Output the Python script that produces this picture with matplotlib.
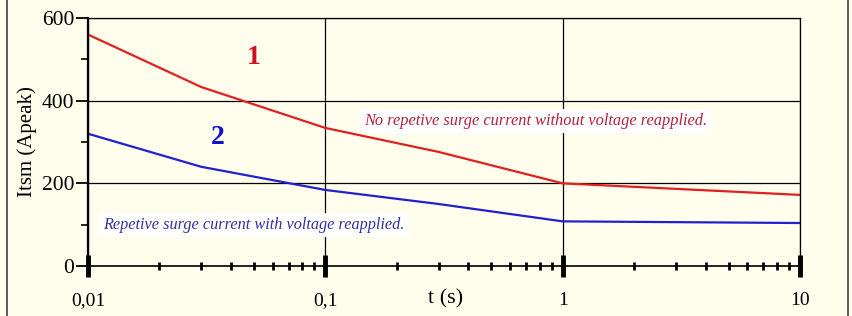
import matplotlib
matplotlib.use("Agg")
import matplotlib.pyplot as plt
from matplotlib.ticker import FixedLocator, LogLocator, NullFormatter
from matplotlib.patches import Rectangle

t_red = [0.01, 0.03, 0.1, 0.3, 1.0, 10.0]
i_red = [560, 433, 334, 276, 200, 172]
t_blue = [0.01, 0.03, 0.1, 0.3, 1.0, 10.0]
i_blue = [320, 240, 184, 150, 108, 104]
xticks = [0.01, 0.1, 1, 10]
xticklabels = ["0,01", "0,1", "1", "10"]
yticks = [0, 200, 400, 600]

bg = "#FFFEEC"
plt.rcParams['font.family'] = ['Liberation Serif', 'DejaVu Serif']

fig = plt.figure(figsize=(8.52, 3.16), dpi=100, facecolor=bg)
ax = fig.add_axes([88/852, 1-266/316, (800-88)/852, (266-18)/316])
ax.set_facecolor(bg)

ax.plot(t_red, i_red, color="#E02020", lw=1.6)
ax.plot(t_blue, i_blue, color="#2020D0", lw=1.6)

ax.set_xscale("log")
ax.set_xlim(0.01, 10)
ax.set_ylim(0, 600)

ax.xaxis.set_major_locator(FixedLocator(xticks))
ax.set_xticklabels(xticklabels)
ax.xaxis.set_minor_locator(LogLocator(base=10, subs=range(2, 10)))
ax.xaxis.set_minor_formatter(NullFormatter())
ax.set_yticks(yticks)
ax.yaxis.set_minor_locator(FixedLocator([100, 300, 500]))

ax.tick_params(axis='x', which='major', direction='inout', length=16, width=3.5, pad=11, labelsize=14, color='black')
ax.tick_params(axis='x', which='minor', direction='inout', length=6, width=2, color='black')
ax.tick_params(axis='y', which='major', direction='out', length=9, width=1.3, pad=1, labelsize=15.5)
ax.tick_params(axis='y', which='minor', direction='out', length=5, width=1.2)

ax.grid(True, which='major', color='black', lw=0.9)
for s in ax.spines.values():
    s.set_linewidth(0.9)
ax.spines['left'].set_linewidth(1.6)
ax.spines['bottom'].set_linewidth(1.2)

ax.set_ylabel("Itsm (Apeak)", fontsize=15, labelpad=3)
ax.set_xlabel("t (s)", fontsize=16)
ax.xaxis.set_label_coords((446-88)/712, -0.095)
ax.xaxis.label.set_va('top')

ax.text(0.05, 505, "1", color="#D01020", fontsize=20, fontweight='bold', ha='center', va='center')
ax.text(0.0353, 310, "2", color="#1010D0", fontsize=20, fontweight='bold', ha='center', va='center')

ax.text(0.145, 350, "No repetive surge current without voltage reapplied.", color="#B02040",
        fontsize=11.8, style='italic', ha='left', va='center',
        bbox=dict(boxstyle='square,pad=0.25', fc='white', ec='none'))
ax.text(0.0116, 100, "Repetive surge current with voltage reapplied.", color="#3030A0",
        fontsize=11.7, style='italic', ha='left', va='center',
        bbox=dict(boxstyle='square,pad=0.25', fc='white', ec='none'))

fig.patches.append(Rectangle((7/852, -0.01), (848-7)/852, 1.02, transform=fig.transFigure,
                             fill=False, ec='#404040', lw=1.2))

fig.savefig("out.png", dpi=100, facecolor=bg)
